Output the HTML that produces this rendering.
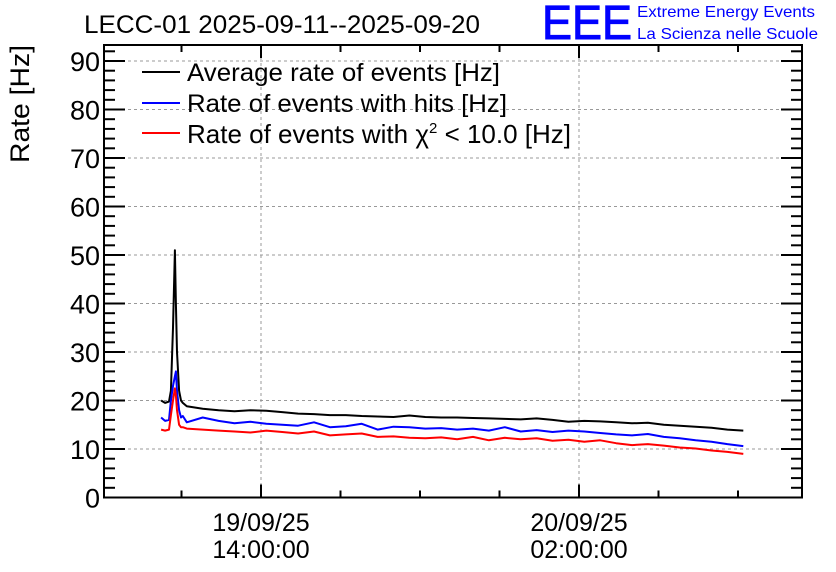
<!DOCTYPE html>
<html><head><meta charset="utf-8"><style>
body{margin:0;background:#fff;}
svg{display:block;font-family:"Liberation Sans",sans-serif;}
</style></head><body>
<svg id="chart" width="836" height="572" viewBox="0 0 836 572">
<rect width="836" height="572" fill="#fff"/>
<text x="84" y="33" font-size="25" textLength="396" lengthAdjust="spacingAndGlyphs">LECC-01 2025-09-11--2025-09-20</text>
<text x="542" y="39" font-size="48" fill="#0000ff" stroke="#0000ff" stroke-width="1" textLength="90" lengthAdjust="spacingAndGlyphs">EEE</text>
<text x="637" y="17" font-size="16" fill="#0000ff" textLength="178" lengthAdjust="spacingAndGlyphs">Extreme Energy Events</text>
<text x="637" y="39" font-size="16" fill="#0000ff" textLength="181" lengthAdjust="spacingAndGlyphs">La Scienza nelle Scuole</text>
<text transform="translate(29,104) rotate(-90)" text-anchor="middle" font-size="27" textLength="118" lengthAdjust="spacingAndGlyphs">Rate [Hz]</text>
<g id="grid"></g>
<g id="axes"></g>
<g id="series"></g>
<g id="legend">
<line x1="142" y1="72" x2="180" y2="72" stroke="#000" stroke-width="2"/>
<text x="187" y="81" font-size="25" textLength="313" lengthAdjust="spacingAndGlyphs">Average rate of events [Hz]</text>
<line x1="142" y1="103" x2="180" y2="103" stroke="#0000ff" stroke-width="2"/>
<text x="187" y="112" font-size="25" textLength="320" lengthAdjust="spacingAndGlyphs">Rate of events with hits [Hz]</text>
<line x1="142" y1="133" x2="180" y2="133" stroke="#ff0000" stroke-width="2"/>
<text x="187" y="143" font-size="26">Rate of events with χ<tspan font-size="15" dy="-10">2</tspan><tspan dy="10"> &lt; 10.0 [Hz]</tspan></text>
</g>
</svg>
<script>
const hours = [-3.77,-3.62,-3.47,-3.40,-3.32,-3.25,-3.21,-3.17,-3.09,-3.02,-2.95,
 -2.8,-2.2,-1.6,-1.0,-0.4,0.2,0.8,1.4,2.0,2.6,3.2,3.8,4.4,5.0,5.6,6.2,6.8,7.4,8.0,8.6,9.2,9.8,10.4,11.0,11.6,12.2,12.8,13.4,14.0,14.6,15.2,15.8,16.4,17.0,17.6,18.2];
const avgRate = [20,19.5,19.8,22,35,51,40,30,22,20,19.5,
 18.8,18.3,18.0,17.8,18.0,17.9,17.6,17.3,17.2,17.0,17.0,16.8,16.7,16.6,16.9,16.6,16.5,16.5,16.4,16.3,16.2,16.1,16.3,16.0,15.6,15.8,15.7,15.5,15.3,15.4,15.0,14.8,14.6,14.4,14.0,13.8];
const hitsRate = [16.5,15.8,16,20,23,25,26,22,18,16.5,16.8,
 15.5,16.5,15.8,15.3,15.6,15.2,15.0,14.8,15.5,14.5,14.7,15.2,14.0,14.6,14.5,14.2,14.3,14.0,14.2,13.8,14.5,13.6,13.9,13.5,13.8,13.6,13.3,13.0,12.8,13.1,12.5,12.2,11.8,11.5,11.0,10.6];
const chi2Rate = [14,13.8,14,17,20,22.5,21,18,15,14.5,14.5,
 14.2,14.0,13.8,13.6,13.4,13.8,13.5,13.2,13.6,12.8,13.0,13.2,12.5,12.6,12.3,12.2,12.4,12.0,12.5,11.8,12.3,12.0,12.2,11.7,11.9,11.5,11.8,11.2,10.8,11.0,10.7,10.3,10.1,9.7,9.4,9.0];
const yTicks = [0,10,20,30,40,50,60,70,80,90];
const xMajorHours = [0,12];
const xDateLabels = ["19/09/25","20/09/25"];
const xTimeLabels = ["14:00:00","02:00:00"];

const NS="http://www.w3.org/2000/svg";
const L=104,R=802,T=45,B=497.5;
function xs(h){return 261+h*26.5;}
function ys(v){return B-v*4.85;}
function mk(tag,attrs,parent){const e=document.createElementNS(NS,tag);for(const k in attrs)e.setAttribute(k,attrs[k]);parent.appendChild(e);return e;}
const grid=document.getElementById('grid'),axes=document.getElementById('axes'),series=document.getElementById('series');

yTicks.forEach(v=>{
 if(v>0){const g=mk('line',{x1:L,x2:R,y1:ys(v),y2:ys(v),stroke:'#999','stroke-dasharray':'3,3','stroke-width':1},grid);
 
 }
 const t=mk('text',{x:L-4,y:ys(v)+10,'text-anchor':'end','font-size':27},axes);
 t.textContent=v;
 
 
});
for(let v=0;v<=92;v+=2){
 const len=(v%10===0)?21:11;
 const a=mk('line',{x1:L,x2:L+len,y1:ys(v),y2:ys(v),stroke:'#000','stroke-width':2},axes);
 
 
 const b=mk('line',{x1:R,x2:R-len,y1:ys(v),y2:ys(v),stroke:'#000','stroke-width':2},axes);
 
 
}
for(let h=-6;h<=21;h+=3){
 const x=xs(h); if(x<L||x>R) continue;
 const major=(h%12===0);
 const len=major?13:7;
 const a=mk('line',{x1:x,x2:x,y1:B,y2:B-len,stroke:'#000','stroke-width':2},axes);
 
 
 const b=mk('line',{x1:x,x2:x,y1:T,y2:T+len,stroke:'#000','stroke-width':2},axes);
 
 
}
xMajorHours.forEach((h,i)=>{
 const g=mk('line',{x1:xs(h),x2:xs(h),y1:T,y2:B,stroke:'#999','stroke-dasharray':'3,3','stroke-width':1},grid);
 
 
 const t1=mk('text',{x:xs(h),y:531,'text-anchor':'middle','font-size':25},axes);
 t1.textContent=xDateLabels[i];
 
 
 const t2=mk('text',{x:xs(h),y:558,'text-anchor':'middle','font-size':25},axes);
 t2.textContent=xTimeLabels[i];
 
 
});
const frame=mk('rect',{x:L,y:T,width:R-L,height:B-T,fill:'none',stroke:'#000','stroke-width':2},axes);



function line(vals,color,name){
 const pts=hours.map((h,i)=>xs(h).toFixed(1)+','+ys(vals[i]).toFixed(1)).join(' ');
 const p=mk('polyline',{points:pts,fill:'none',stroke:color,'stroke-width':2,'stroke-linejoin':'round'},series);
 
 
}
line(avgRate,'#000','average-rate-line');
line(hitsRate,'#0000ff','hits-rate-line');
line(chi2Rate,'#ff0000','chi2-rate-line');
</script>
</body></html>
